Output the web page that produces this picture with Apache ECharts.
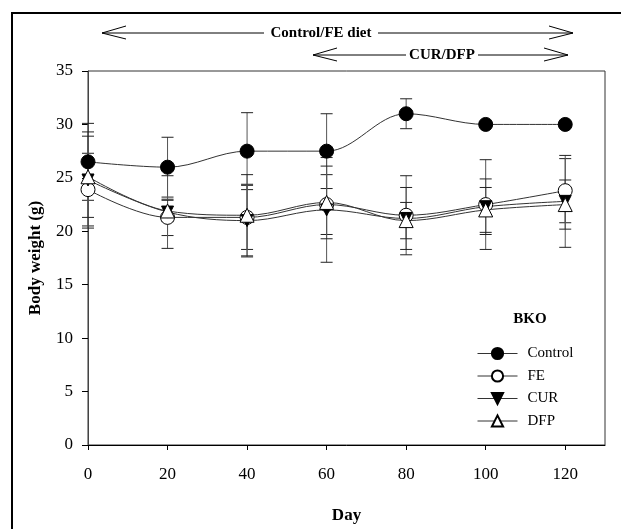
<!DOCTYPE html>
<html><head><meta charset="utf-8">
<script src="https://cdn.jsdelivr.net/npm/echarts@6/dist/echarts.min.js"></script>
<style>html,body{margin:0;padding:0;background:#fff}#c{width:621px;height:529px}</style>
</head><body><div id="c"></div>
<script>
const days = [0, 20, 40, 60, 80, 100, 120];
const xTicks = [0, 20, 40, 60, 80, 100, 120];
const yTicks = [0, 5, 10, 15, 20, 25, 30, 35];
const seriesNames = ['Control', 'FE', 'CUR', 'DFP'];
const control = [26.5, 26.0, 27.5, 27.5, 31.0, 30.0, 30.0];
const controlErr = [3.6, 2.8, 3.6, 3.5, 1.4, 0.3, 0.3];
const fe = [23.9, 21.3, 21.3, 22.5, 21.5, 22.5, 23.8];
const feErr = [3.4, 1.7, 3.0, 2.8, 3.7, 4.2, 3.0];
const cur = [24.8, 21.8, 21.0, 22.0, 21.2, 22.3, 22.8];
const curErr = [4.5, 3.4, 3.4, 4.9, 2.9, 2.6, 4.3];
const dfp = [25.1, 21.9, 21.5, 22.7, 21.0, 22.0, 22.5];
const dfpErr = [3.8, 1.0, 3.8, 3.4, 1.7, 2.1, 2.3];

const FONT = '"Liberation Serif", "DejaVu Serif", serif';
const chart = echarts.init(document.getElementById('c'));

function pairs(v){ return days.map((d,i)=>[d, v[i]]); }
function errData(v,e){ return days.map((d,i)=>[d, v[i]-e[i], v[i]+e[i]]); }
function errRender(params, api){
  const x = api.value(0), lo = api.value(1), hi = api.value(2);
  const a = api.coord([x, lo]), b = api.coord([x, hi]);
  const hw = 6;
  return {type:'group', children:[
    {type:'line', shape:{x1:a[0], y1:a[1], x2:b[0], y2:b[1]}, style:{stroke:'#555', lineWidth:1}},
    {type:'line', shape:{x1:a[0]-hw, y1:a[1], x2:a[0]+hw, y2:a[1]}, style:{stroke:'#222', lineWidth:1}},
    {type:'line', shape:{x1:b[0]-hw, y1:b[1], x2:b[0]+hw, y2:b[1]}, style:{stroke:'#222', lineWidth:1}}
  ]};
}
function errSeries(v,e){
  return {type:'custom', renderItem: errRender, data: errData(v,e), z: 1, silent: true,
          encode:{x:0, y:[1,2]}};
}
function lineSeries(name, v, symbol, size, fill, rotate){
  return {name, type:'line', data: pairs(v), smooth: 0.35, z: 3,
    symbol, symbolSize: size, symbolRotate: rotate || 0, showAllSymbol: true,
    lineStyle:{color:'#333', width:1},
    itemStyle:{color: fill, borderColor:'#000', borderWidth:1},
    emphasis:{disabled:true}};
}

function arrow(x1, x2, y){
  return [
    {type:'line', shape:{x1, y1:y, x2, y2:y}, style:{stroke:'#000', lineWidth:1}},
    {type:'polyline', shape:{points:[[x1+24, y-7],[x1, y],[x1+24, y+6]]}, style:{stroke:'#000', fill:null, lineWidth:1}},
    {type:'polyline', shape:{points:[[x2-24, y-7],[x2, y],[x2-24, y+6]]}, style:{stroke:'#000', fill:null, lineWidth:1}}
  ];
}

chart.setOption({
  animation: false,
  backgroundColor: '#fff',
  grid: {left: 88, top: 71, right: 16, bottom: 83, show: true, borderColor: '#333', borderWidth: 1, backgroundColor:'transparent'},
  xAxis: {
    type: 'value', min: 0, max: 130, interval: 20,
    name: 'Day', nameLocation: 'middle', nameGap: 62,
    nameTextStyle: {fontFamily: FONT, fontSize: 17, fontWeight: 'bold', color: '#000'},
    axisLine: {lineStyle: {color: '#000', width: 1}},
    axisTick: {show: true, length: 5, inside: false, lineStyle:{color:'#000'}, customValues: xTicks},
    axisLabel: {fontFamily: FONT, fontSize: 17, color: '#000', margin: 21, customValues: xTicks},
    splitLine: {show: false}
  },
  yAxis: {
    type: 'value', min: 0, max: 35, interval: 5,
    name: 'Body weight (g)', nameLocation: 'middle', nameGap: 44, nameRotate: 90,
    nameTextStyle: {fontFamily: FONT, fontSize: 17, fontWeight: 'bold', color: '#000'},
    axisLine: {show: true, lineStyle: {color: '#444', width: 1}},
    axisTick: {show: true, length: 6, inside: false, lineStyle:{color:'#000'}, customValues: yTicks},
    axisLabel: {fontFamily: FONT, fontSize: 17, color: '#000', margin: 15, customValues: yTicks},
    splitLine: {show: false}
  },
  legend: {
    data: seriesNames, orient: 'vertical', left: 472, top: 341,
    itemWidth: 40, itemHeight: 14, itemGap: 7.5,
    textStyle: {fontFamily: FONT, fontSize: 15, color: '#000', padding: [0,0,0,5]},
    lineStyle: {width: 1},
    selectedMode: false
  },
  graphic: [
    {type:'rect', shape:{x:12, y:13, width:640, height:560}, style:{fill:null, stroke:'#000', lineWidth:2}, silent:true},
    ...arrow(102, 573, 33),
    ...arrow(313, 568, 55),
    {type:'rect', shape:{x:264, y:24, width:114, height:18}, style:{fill:'#fff'}},
    {type:'text', style:{x:321, y:33, text:'Control/FE diet', font:'bold 15px ' + FONT, fill:'#000', align:'center', verticalAlign:'middle'}},
    {type:'rect', shape:{x:406, y:46, width:72, height:18}, style:{fill:'#fff'}},
    {type:'text', style:{x:442, y:55, text:'CUR/DFP', font:'bold 15px ' + FONT, fill:'#000', align:'center', verticalAlign:'middle'}},
    {type:'text', style:{x:530, y:319, text:'BKO', font:'bold 15px ' + FONT, fill:'#000', align:'center', verticalAlign:'middle'}}
  ],
  series: [
    errSeries(control, controlErr),
    errSeries(fe, feErr),
    errSeries(cur, curErr),
    errSeries(dfp, dfpErr),
    lineSeries('Control', control, 'circle', 14, '#000'),
    lineSeries('FE', fe, 'circle', 14, '#fff'),
    lineSeries('CUR', cur, 'triangle', 12, '#000', 180),
    lineSeries('DFP', dfp, 'triangle', 14, '#fff')
  ]
});
</script></body></html>
